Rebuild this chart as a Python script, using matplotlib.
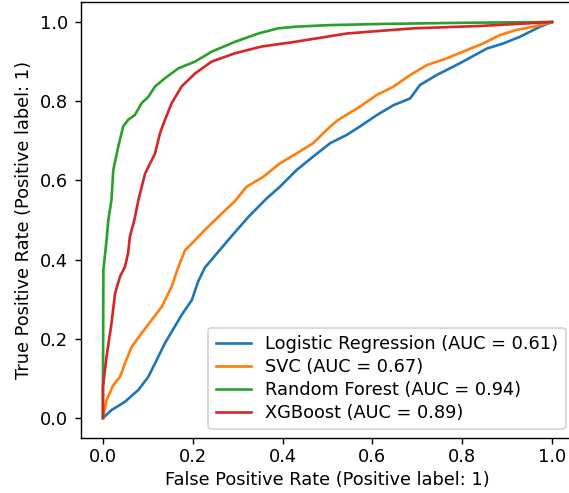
import matplotlib
matplotlib.use("Agg")
import matplotlib.pyplot as plt

# Logistic Regression
lr_fpr = [0, 0.019, 0.049, 0.079, 0.101, 0.116, 0.138, 0.160, 0.175, 0.198, 0.212, 0.227, 0.257,
          0.287, 0.324, 0.365, 0.394, 0.431, 0.468, 0.506, 0.543, 0.572, 0.610, 0.647, 0.684, 0.706,
          0.743, 0.795, 0.855, 0.892, 0.929, 0.973, 1.0]
lr_tpr = [0, 0.020, 0.041, 0.071, 0.104, 0.138, 0.189, 0.231, 0.260, 0.298, 0.345, 0.380, 0.420,
          0.460, 0.508, 0.555, 0.584, 0.626, 0.660, 0.694, 0.715, 0.736, 0.765, 0.790, 0.807, 0.841,
          0.866, 0.896, 0.933, 0.946, 0.963, 0.988, 1.0]

# SVC
svc_fpr = [0, 0.008, 0.023, 0.038, 0.049, 0.064, 0.086, 0.108, 0.131, 0.153, 0.168, 0.183, 0.205,
           0.227, 0.257, 0.294, 0.320, 0.357, 0.394, 0.431, 0.468, 0.506, 0.524, 0.572, 0.610, 0.647,
           0.684, 0.721, 0.765, 0.810, 0.847, 0.884, 0.921, 0.958, 1.0]
svc_tpr = [0, 0.045, 0.083, 0.104, 0.138, 0.180, 0.214, 0.247, 0.281, 0.332, 0.382, 0.424, 0.449,
           0.475, 0.508, 0.548, 0.584, 0.609, 0.643, 0.668, 0.694, 0.736, 0.753, 0.786, 0.816, 0.837,
           0.866, 0.891, 0.908, 0.929, 0.946, 0.967, 0.980, 0.988, 1.0]

# Random Forest
rf_fpr = [0, 0.0, 0.001, 0.008, 0.012, 0.019, 0.023, 0.034, 0.045, 0.056, 0.071, 0.086, 0.101,
          0.116, 0.138, 0.168, 0.205, 0.242, 0.294, 0.346, 0.390, 0.428, 0.500, 0.617, 0.800, 1.0]
rf_tpr = [0, 0.079, 0.374, 0.449, 0.500, 0.551, 0.626, 0.685, 0.736, 0.753, 0.765, 0.795, 0.811,
          0.837, 0.858, 0.883, 0.900, 0.925, 0.950, 0.971, 0.984, 0.988, 0.992, 0.995, 0.998, 1.0]

# XGBoost
xgb_fpr = [0, 0.0, 0.008, 0.019, 0.027, 0.038, 0.049, 0.056, 0.060, 0.070, 0.079, 0.094, 0.116,
           0.127, 0.138, 0.153, 0.175, 0.205, 0.242, 0.294, 0.353, 0.428, 0.543, 0.691, 0.840, 1.0]
xgb_tpr = [0, 0.079, 0.155, 0.239, 0.315, 0.357, 0.382, 0.416, 0.458, 0.500, 0.551, 0.618, 0.668,
           0.719, 0.753, 0.795, 0.837, 0.870, 0.900, 0.921, 0.938, 0.950, 0.971, 0.984, 0.990, 1.0]

labels = ["Logistic Regression (AUC = 0.61)", "SVC (AUC = 0.67)",
          "Random Forest (AUC = 0.94)", "XGBoost (AUC = 0.89)"]

DPI = 128
plt.rcParams["xtick.major.pad"] = 2.0
fig = plt.figure(figsize=(569 / DPI, 493 / DPI), dpi=DPI)
ax = fig.add_axes([80.5 / 569, (493 - 437.8) / 493, 494 / 569, 435.6 / 493])

for f, t, lab in zip([lr_fpr, svc_fpr, rf_fpr, xgb_fpr],
                     [lr_tpr, svc_tpr, rf_tpr, xgb_tpr], labels):
    ax.plot(f, t, label=lab)

ax.set_xlabel("False Positive Rate (Positive label: 1)", labelpad=3)
ax.set_ylabel("True Positive Rate (Positive label: 1)")
ax.legend(loc="lower right", labelspacing=0.28)

fig.savefig("out.png", dpi=DPI)
